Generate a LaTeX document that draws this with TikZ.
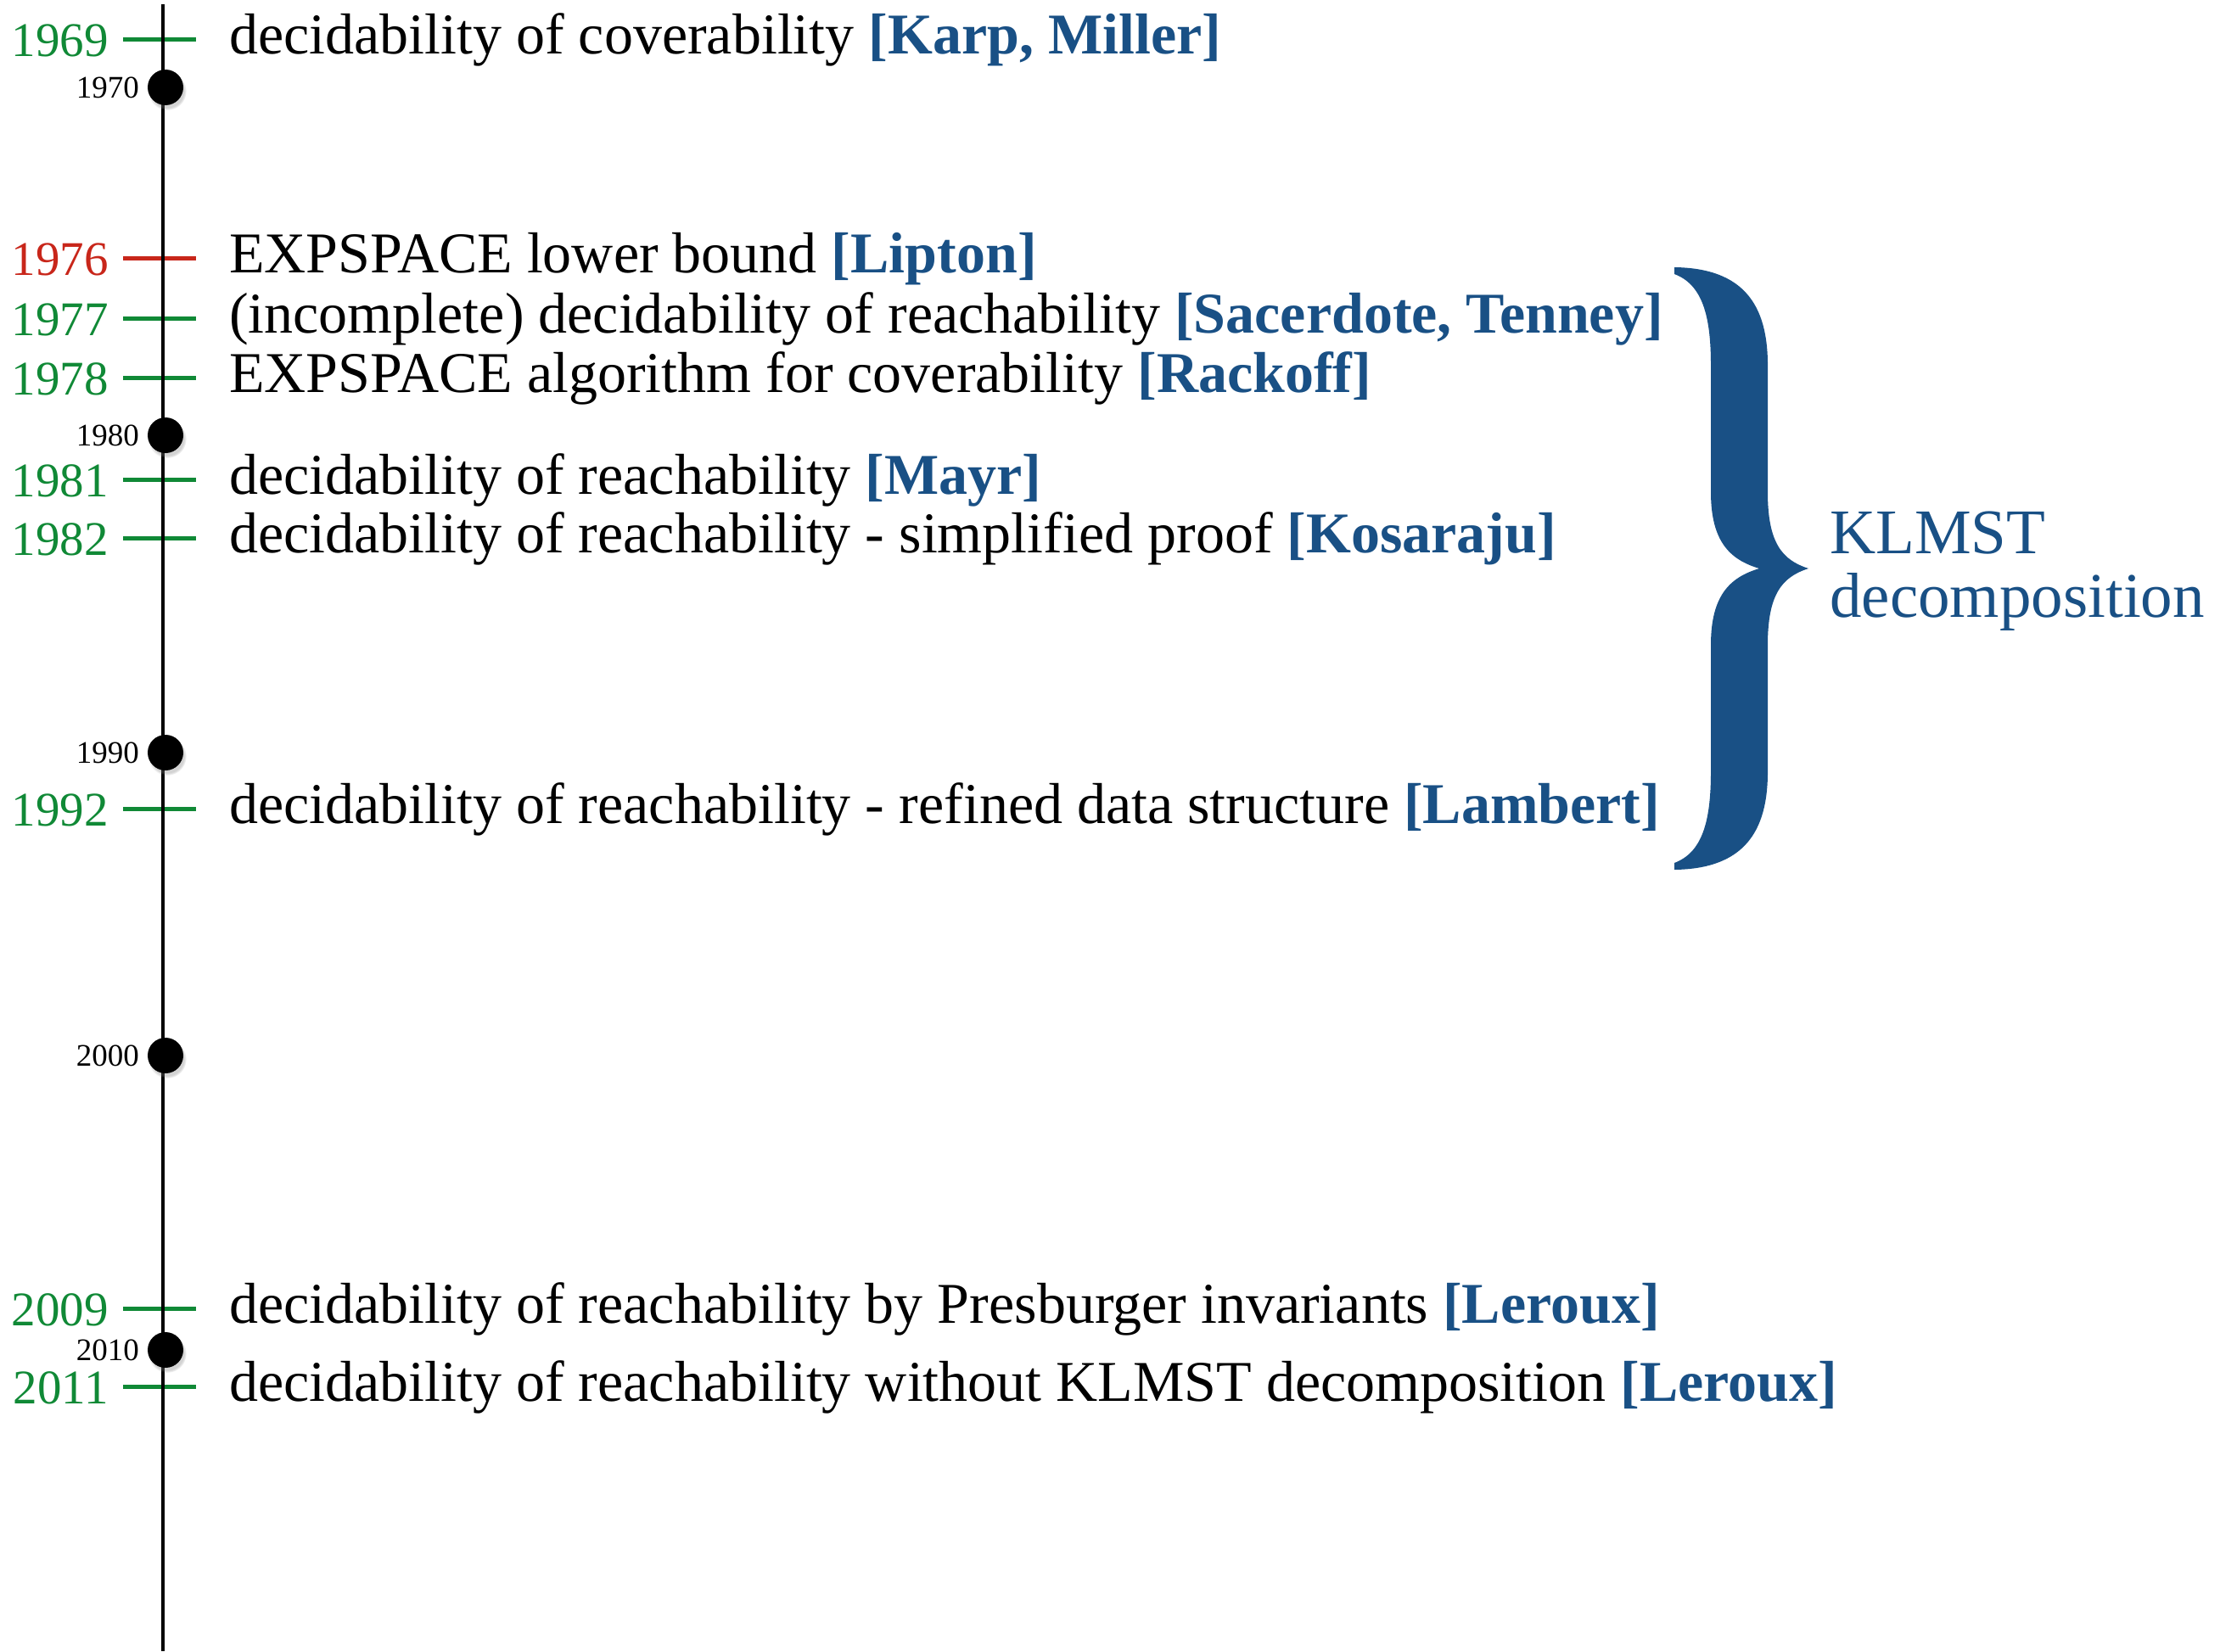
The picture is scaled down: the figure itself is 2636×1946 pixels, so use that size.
\documentclass[tikz,border=0pt]{standalone}
\usepackage{fontspec}
\setmainfont{Liberation Serif}
\usetikzlibrary{shadows}

\definecolor{evgreen}{RGB}{16,137,54}
\definecolor{evred}{RGB}{200,38,26}
\definecolor{citeblue}{RGB}{25,80,133}

% reference in bold blue
\newcommand{\tlcite}[1]{{\bfseries\color{citeblue}[#1]}}

% one event: id, year, height of tick, colour, text, reference
\newcommand{\tlevent}[6]{%
  \coordinate (t#1a) at (145,#3);
  \coordinate (t#1b) at (231,#3);
  \draw[tickmark,#4] (t#1a) -- (t#1b);
  \node[yearlabel,text=#4] (y#1) at (128,#3+20) {#2};
  \node[eventtext] (e#1) at (270,#3+17) {#5 \tlcite{#6}};
}

% one decade marker: id, year, height
\newcommand{\tldecade}[3]{%
  \node[decadedot] (d#1) at (195,#3) {};
  \node[decadelabel] (l#1) at (164,#3) {#2};
}

\begin{document}
\begin{tikzpicture}[x=1pt,y=-1pt,
  axisline/.style={line width=4pt,black},
  tickmark/.style={line width=5pt},
  yearlabel/.style={anchor=base east,inner sep=0pt,font=\fontsize{57}{60}\selectfont},
  eventtext/.style={anchor=base west,inner sep=0pt,font=\fontsize{68}{75}\selectfont},
  decadedot/.style={circle,fill=black,minimum size=42pt,inner sep=0pt,
    circular drop shadow={shadow xshift=2pt,shadow yshift=-4pt,shadow scale=1.08,opacity=0.35}},
  decadelabel/.style={anchor=east,inner sep=0pt,font=\fontsize{37}{40}\selectfont},
]
\useasboundingbox (0,0) rectangle (2636,1946);

% events
\tlevent{a}{1969}{46}{evgreen}{decidability of coverability}{Karp, Miller}
\tlevent{b}{1976}{304}{evred}{EXPSPACE lower bound}{Lipton}
\tlevent{c}{1977}{375}{evgreen}{(incomplete) decidability of reachability}{Sacerdote, Tenney}
\tlevent{d}{1978}{445}{evgreen}{EXPSPACE algorithm for coverability}{Rackoff}
\tlevent{e}{1981}{565}{evgreen}{decidability of reachability}{Mayr}
\tlevent{f}{1982}{634}{evgreen}{decidability of reachability - simplified proof}{Kosaraju}
\tlevent{g}{1992}{953}{evgreen}{decidability of reachability - refined data structure}{Lambert}
\tlevent{h}{2009}{1542}{evgreen}{decidability of reachability by Presburger invariants}{Leroux}
\tlevent{i}{2011}{1634}{evgreen}{decidability of reachability without KLMST decomposition}{Leroux}

% time axis
\coordinate (axtop) at (192,5);
\coordinate (axbot) at (192,1946);
\draw[axisline] (axtop) -- (axbot);

% decades
\tldecade{70}{1970}{103}
\tldecade{80}{1980}{513}
\tldecade{90}{1990}{887}
\tldecade{00}{2000}{1244}
\tldecade{10}{2010}{1591}

% brace grouping the KLMST results
\fill[citeblue]
  (1973,315) .. controls (2055,316) and (2083,360) .. (2083,430)
  -- (2083,580)
  .. controls (2083,640) and (2100,660) .. (2131,670)
  .. controls (2100,680) and (2083,700) .. (2083,760)
  -- (2083,910)
  .. controls (2083,980) and (2055,1024) .. (1973,1025)
  -- (1973,1017)
  .. controls (2005,1005) and (2016,970) .. (2016,910)
  -- (2016,760)
  .. controls (2016,700) and (2040,680) .. (2073,670)
  .. controls (2040,660) and (2016,640) .. (2016,580)
  -- (2016,430)
  .. controls (2016,370) and (2005,335) .. (1973,323)
  -- cycle;
% the base anchor of this two-line node sits on its last line
\node[anchor=base west,inner sep=0pt,text=citeblue,align=left,
  font=\fontsize{75}{75}\selectfont] (klmst) at (2156,727) {KLMST\\decomposition};
\end{tikzpicture}
\end{document}
